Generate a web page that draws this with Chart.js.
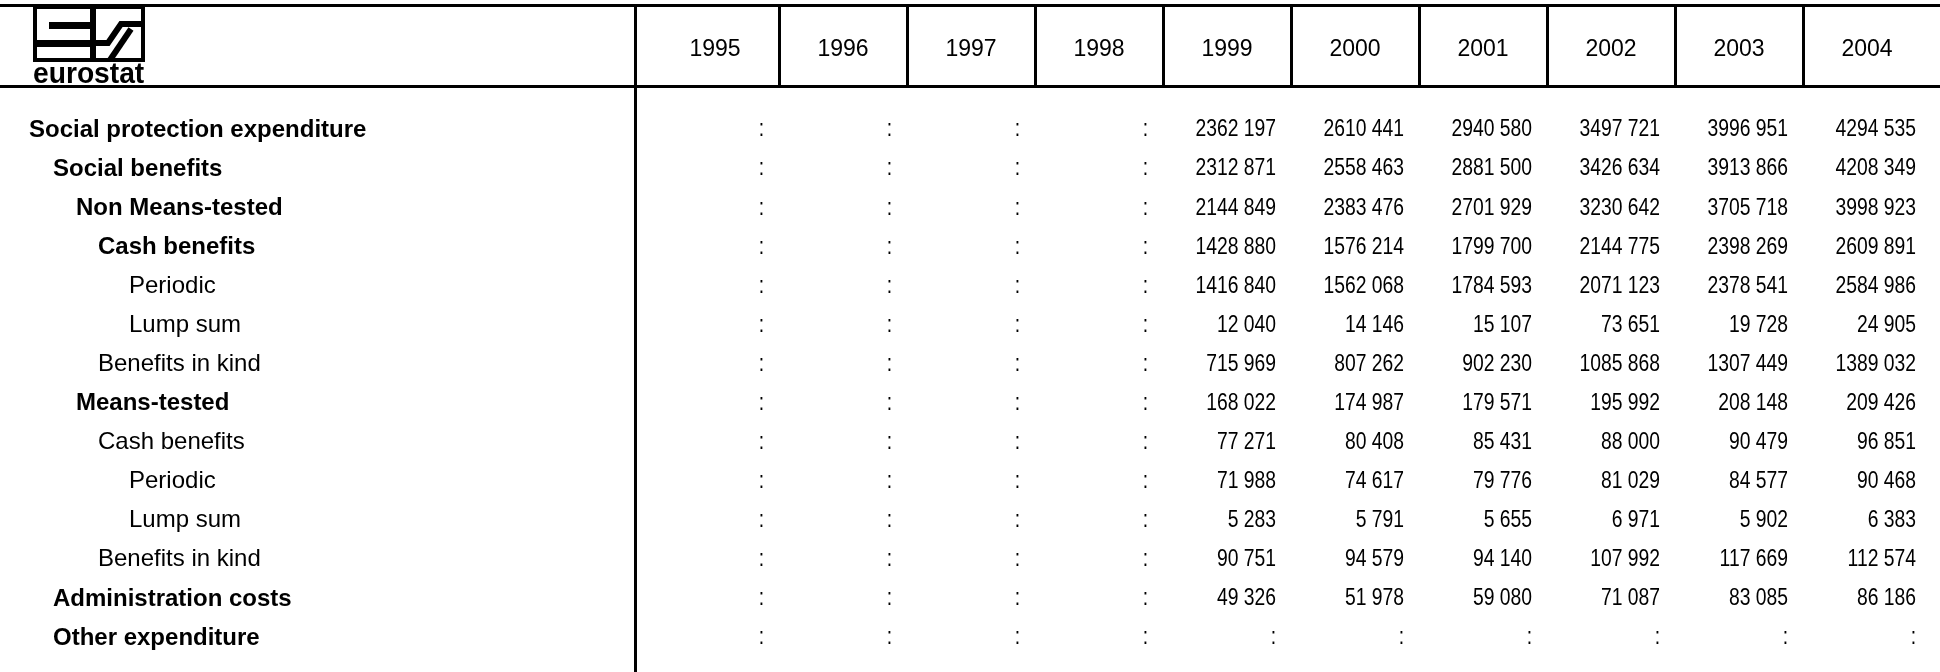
<!DOCTYPE html>
<html>
<head>
<meta charset="utf-8">
<script src="https://cdn.jsdelivr.net/npm/chart.js@4.4.1/dist/chart.umd.min.js"></script>
<style>
  html, body { margin: 0; padding: 0; background: #fff; }
  #wrap { width: 1940px; height: 672px; position: relative; }
</style>
</head>
<body>
<div id="wrap"><canvas id="myChart"></canvas></div>
<script>
const years = ['1995', '1996', '1997', '1998', '1999', '2000', '2001', '2002', '2003', '2004'];

const rowLabels = [
    'Social protection expenditure', 'Social benefits', 'Non Means-tested', 'Cash benefits',
    'Periodic', 'Lump sum', 'Benefits in kind', 'Means-tested', 'Cash benefits',
    'Periodic', 'Lump sum', 'Benefits in kind', 'Administration costs', 'Other expenditure'
];
// tree level of each row and whether it is printed in bold
const rowLevels = [0, 1, 2, 3, 4, 4, 3, 2, 3, 4, 4, 3, 1, 1];
const rowBold = [true, true, true, true, false, false, false, true, false, false, false, false, true, true];

// null = not available (":")
const totalExpenditure = [null, null, null, null, 2362197, 2610441, 2940580, 3497721, 3996951, 4294535];
const socialBenefits = [null, null, null, null, 2312871, 2558463, 2881500, 3426634, 3913866, 4208349];
const nonMeansTested = [null, null, null, null, 2144849, 2383476, 2701929, 3230642, 3705718, 3998923];
const nmCash = [null, null, null, null, 1428880, 1576214, 1799700, 2144775, 2398269, 2609891];
const nmPeriodic = [null, null, null, null, 1416840, 1562068, 1784593, 2071123, 2378541, 2584986];
const nmLumpSum = [null, null, null, null, 12040, 14146, 15107, 73651, 19728, 24905];
const nmInKind = [null, null, null, null, 715969, 807262, 902230, 1085868, 1307449, 1389032];
const meansTested = [null, null, null, null, 168022, 174987, 179571, 195992, 208148, 209426];
const mtCash = [null, null, null, null, 77271, 80408, 85431, 88000, 90479, 96851];
const mtPeriodic = [null, null, null, null, 71988, 74617, 79776, 81029, 84577, 90468];
const mtLumpSum = [null, null, null, null, 5283, 5791, 5655, 6971, 5902, 6383];
const mtInKind = [null, null, null, null, 90751, 94579, 94140, 107992, 117669, 112574];
const adminCosts = [null, null, null, null, 49326, 51978, 59080, 71087, 83085, 86186];
const otherExpenditure = [null, null, null, null, null, null, null, null, null, null];

const rowValues = [totalExpenditure, socialBenefits, nonMeansTested, nmCash, nmPeriodic, nmLumpSum, nmInKind,
    meansTested, mtCash, mtPeriodic, mtLumpSum, mtInKind, adminCosts, otherExpenditure];

// one invisible point per table cell, the text is written at its position
const cells = [];
rowValues.forEach((vals, r) => {
    vals.forEach((v, c) => cells.push({ x: years[c], y: r, v: v }));
});

// eurostat style: only the last three digits are split off ("2362 197")
function fmt(v) {
    if (v === null) return ':';
    const s = String(v);
    return s.length > 3 ? s.slice(0, -3) + ' ' + s.slice(-3) : s;
}

const FONT = '"Liberation Sans", Arial, sans-serif';
const indents = [29, 53, 76, 98, 129];

const tablePlugin = {
    id: 'tablePlugin',
    afterDraw(chart) {
        const ctx = chart.ctx;
        const xs = chart.scales.x;
        const ys = chart.scales.y;
        const W = chart.width, H = chart.height;
        const colW = xs.width / years.length;

        ctx.save();
        ctx.fillStyle = '#000';
        ctx.strokeStyle = '#000';

        // frame lines
        ctx.fillRect(0, 4, W, 3);
        ctx.fillRect(0, 85, W, 3);
        ctx.fillRect(634, 4, 3, H - 4);
        for (let i = 1; i < years.length; i++) {
            const bx = Math.round((xs.getPixelForValue(i - 1) + xs.getPixelForValue(i)) / 2);
            ctx.fillRect(bx - 1, 4, 3, 84);
        }

        // logo
        ctx.lineWidth = 4;
        ctx.strokeRect(35, 7, 108, 53);
        ctx.fillRect(49, 22, 42, 7);
        ctx.fillRect(35, 40, 56, 7);
        ctx.fillRect(90, 5, 6, 57);
        ctx.lineWidth = 6;
        ctx.beginPath();
        ctx.moveTo(96, 43); ctx.lineTo(108, 43); ctx.lineTo(121, 24); ctx.lineTo(141, 24);
        ctx.stroke();
        ctx.beginPath();
        ctx.moveTo(110, 60); ctx.lineTo(131, 29);
        ctx.stroke();
        ctx.save();
        ctx.font = 'bold 30px ' + FONT;
        ctx.textAlign = 'left';
        ctx.textBaseline = 'alphabetic';
        ctx.translate(33, 83);
        ctx.scale(0.94, 1);
        ctx.fillText('eurostat', 0, 0);
        ctx.restore();

        // year headers
        ctx.font = '23px ' + FONT;
        ctx.textAlign = 'center';
        ctx.textBaseline = 'middle';
        years.forEach((y, i) => ctx.fillText(y, xs.getPixelForValue(i), 50));

        // row labels
        ctx.textAlign = 'left';
        rowLabels.forEach((lab, r) => {
            ctx.font = (rowBold[r] ? 'bold ' : '') + '24px ' + FONT;
            ctx.fillText(lab, indents[rowLevels[r]], ys.getPixelForValue(r) + 1);
        });

        // cell values, narrow figures right aligned in each column
        ctx.font = '23px ' + FONT;
        ctx.textAlign = 'right';
        const meta = chart.getDatasetMeta(0);
        meta.data.forEach((el, i) => {
            const right = el.x + colW / 2 - 15;
            ctx.save();
            ctx.translate(right, el.y + 1);
            ctx.scale(0.84, 1);
            ctx.fillText(fmt(cells[i].v), 0, 0);
            ctx.restore();
        });
        ctx.restore();
    }
};

const ctx = document.getElementById('myChart').getContext('2d');
const myChart = new Chart(ctx, {
    type: 'scatter',
    data: {
        datasets: [{
            data: cells,
            pointRadius: 0,
            pointHoverRadius: 0
        }]
    },
    options: {
        responsive: true,
        maintainAspectRatio: false,
        animation: false,
        devicePixelRatio: 1,
        layout: { padding: { left: 651, right: 9, top: 109.5, bottom: 15.5 } },
        plugins: { legend: { display: false }, tooltip: { enabled: false } },
        scales: {
            x: { type: 'category', labels: years, offset: true, display: false },
            y: { type: 'linear', min: -0.5, max: 13.5, reverse: true, display: false }
        }
    },
    plugins: [tablePlugin]
});
</script>
</body>
</html>
